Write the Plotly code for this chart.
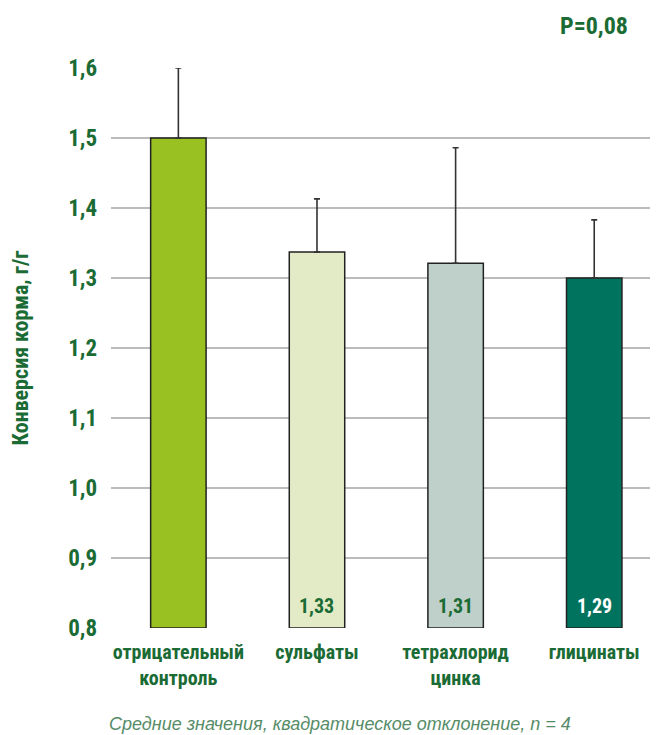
import plotly.graph_objects as go

# data
categories = ["отрицательный<br>контроль", "сульфаты", "тетрахлорид<br>цинка", "глицинаты"]
means = [1.50, 1.337, 1.321, 1.30]
sd = [0.10, 0.076, 0.165, 0.083]
value_labels = ["", "1,33", "1,31", "1,29"]
y_ticks = [0.8, 0.9, 1.0, 1.1, 1.2, 1.3, 1.4, 1.5, 1.6]
y_tick_text = ["0,8", "0,9", "1,0", "1,1", "1,2", "1,3", "1,4", "1,5", "1,6"]

bar_colors = ["#98C121", "#E2EBC6", "#BFD0CA", "#00735F"]
label_colors = ["#1B6B35", "#1B6B35", "#1B6B35", "#FFFFFF"]
GREEN = "#1B6B35"
FONT = "Roboto Condensed, Liberation Sans Narrow, sans-serif"

x_pos = list(range(len(categories)))

fig = go.Figure()
fig.add_trace(go.Bar(
    x=x_pos,
    y=[m - y_ticks[0] for m in means],
    base=y_ticks[0],
    width=0.4,
    marker=dict(color=bar_colors, line=dict(color="#222222", width=1.5)),
    error_y=dict(type="data", array=sd, symmetric=False, arrayminus=[0] * len(sd),
                 color="#333333", thickness=1.6, width=3),
    hoverinfo="skip",
))

for i, txt in enumerate(value_labels):
    if txt:
        fig.add_annotation(
            x=x_pos[i], y=y_ticks[0], text="<b>" + txt + "</b>",
            showarrow=False, yanchor="bottom", yshift=8,
            font=dict(family=FONT, size=20, color=label_colors[i]),
        )

# p-value label
fig.add_annotation(
    xref="paper", yref="paper", x=0.883, y=1.0, yshift=42,
    xanchor="center", yanchor="middle",
    text="<b>P=0,08</b>", showarrow=False,
    font=dict(family=FONT, size=24, color=GREEN),
)
# footnote
fig.add_annotation(
    xref="paper", yref="paper", x=0.419, y=0, yshift=-96,
    xanchor="center", yanchor="middle",
    text="<i>Средние значения, квадратическое отклонение, n = 4</i>",
    showarrow=False,
    font=dict(family="Liberation Sans, Arial, sans-serif", size=18, color="#568C68"),
)

# page body has an 8px margin, so the figure is a bit smaller than the window
fig.update_layout(
    width=650, height=727,
    margin=dict(l=103, r=0, t=60, b=107),
    plot_bgcolor="white", paper_bgcolor="white",
    showlegend=False,
    font=dict(family=FONT, color=GREEN),
    xaxis=dict(
        range=[-0.486, 3.46],
        tickvals=x_pos,
        ticktext=["<b>" + c.replace("<br>", "</b><br><b>") + "</b>" for c in categories],
        tickfont=dict(family=FONT, size=20, color=GREEN),
        showgrid=False, zeroline=False, showline=False, ticks="",
        ticklabelstandoff=10,
    ),
    yaxis=dict(
        range=[0.8, 1.6],
        tickvals=y_ticks,
        ticktext=["<b>" + t + "</b>" for t in y_tick_text],
        tickfont=dict(family=FONT, size=23, color=GREEN),
        showgrid=True, gridcolor="#BBBBBB", gridwidth=2,
        zeroline=False, showline=False, ticks="",
        ticklabelstandoff=13,
        title=dict(text="<b>Конверсия корма, г/г</b>",
                   font=dict(family=FONT, size=22, color=GREEN), standoff=34),
    ),
)

fig.write_html("out.html")
